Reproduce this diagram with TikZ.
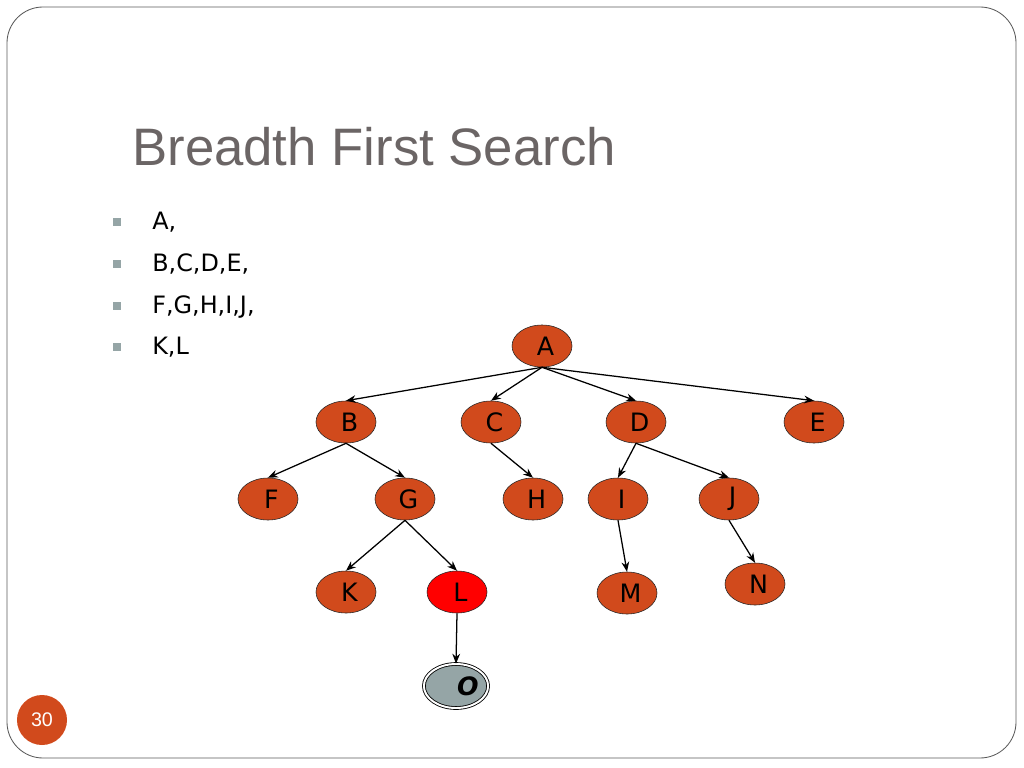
\documentclass[tikz,border=0pt]{standalone}
\usepackage{fontspec}
\setmainfont{DejaVu Sans}
\newfontfamily\titlefont{Liberation Sans}
\usetikzlibrary{shapes.geometric, arrows.meta}
\definecolor{vertorange}{RGB}{209,74,28}
\definecolor{titlegray}{RGB}{107,101,101}
\definecolor{bulletgray}{RGB}{149,165,166}
\definecolor{framegray}{RGB}{90,90,90}
\begin{document}
\begin{tikzpicture}[>={Stealth[length=7pt, width=5.5pt]}, x=0.025cm, y=-0.025cm,
  vert/.style={ellipse, draw=black!85, fill=vertorange, minimum width=1.5cm, minimum height=1.05cm, inner sep=0pt, font=\fontsize{18}{21}\selectfont, execute at begin node=\hspace{5pt}},
  link/.style={->, line width=0.9pt},
  bulletsq/.style={rectangle, fill=bulletgray, minimum size=0.2cm, inner sep=0pt},
  entry/.style={anchor=base west, inner sep=0pt, font=\fontsize{17}{20}\selectfont}]
\useasboundingbox (0,0) rectangle (1024,768);
\draw[framegray, line width=0.6pt, rounded corners=0.9cm] (7,7) rectangle (1016,758);
\node[anchor=base west, inner sep=0pt, text=titlegray, font=\titlefont\fontsize{37.5}{45}\selectfont] (title) at (132,165) {Breadth First Search};
% bullet list
\node[bulletsq] (b1) at (117,222) {};
\node[bulletsq] (b2) at (117,264) {};
\node[bulletsq] (b3) at (117,306) {};
\node[bulletsq] (b4) at (117,347) {};
\node[entry] (t1) at (152,229) {A,};
\node[entry] (t2) at (152,271) {B,C,D,E,};
\node[entry] (t3) at (152,313) {F,G,H,I,J,};
\node[entry] (t4) at (152,354) {K,L};
% tree
\node[vert] (A) at (542,346) {A};
\node[vert] (B) at (346,422) {B};
\node[vert] (C) at (491,422) {C};
\node[vert] (D) at (636,422) {D};
\node[vert] (E) at (814,422) {E};
\node[vert] (F) at (268,499) {F};
\node[vert] (G) at (405,499) {G};
\node[vert] (H) at (533,499) {H};
\node[vert] (I) at (618,499) {I};
\node[vert] (J) at (729,499) {J};
\node[vert] (K) at (346,592) {K};
\node[vert, fill=red] (L) at (457,592) {L};
\node[vert] (M) at (627,593) {M};
\node[vert] (N) at (755,584) {N};
\node[vert, fill=bulletgray, draw=black, line width=0.6pt, double, double distance=1.4pt, minimum width=1.55cm, minimum height=1.1cm, execute at begin node=\hspace{12pt}, font=\fontsize{18}{21}\selectfont\bfseries\itshape] (O) at (456,686) {O};
\draw[link] (A.south) -- (B.north);
\draw[link] (A.south) -- (C.north);
\draw[link] (A.south) -- (D.north);
\draw[link] (A.south) -- (E.north);
\draw[link] (B.south) -- (F.north);
\draw[link] (B.south) -- (G.north);
\draw[link] (C.south) -- (H.north);
\draw[link] (D.south) -- (I.north);
\draw[link] (D.south) -- (J.north);
\draw[link] (G.south) -- (K.north);
\draw[link] (G.south) -- (L.north);
\draw[link] (I.south) -- (M.north);
\draw[link] (J.south) -- (N.north);
\draw[link] (L.south) -- (O.north);
% page number
\node[circle, fill=vertorange, minimum size=1.25cm, inner sep=0pt, text=white, font=\titlefont\fontsize{14}{16}\selectfont] (num) at (42,720) {30};
\end{tikzpicture}
\end{document}
